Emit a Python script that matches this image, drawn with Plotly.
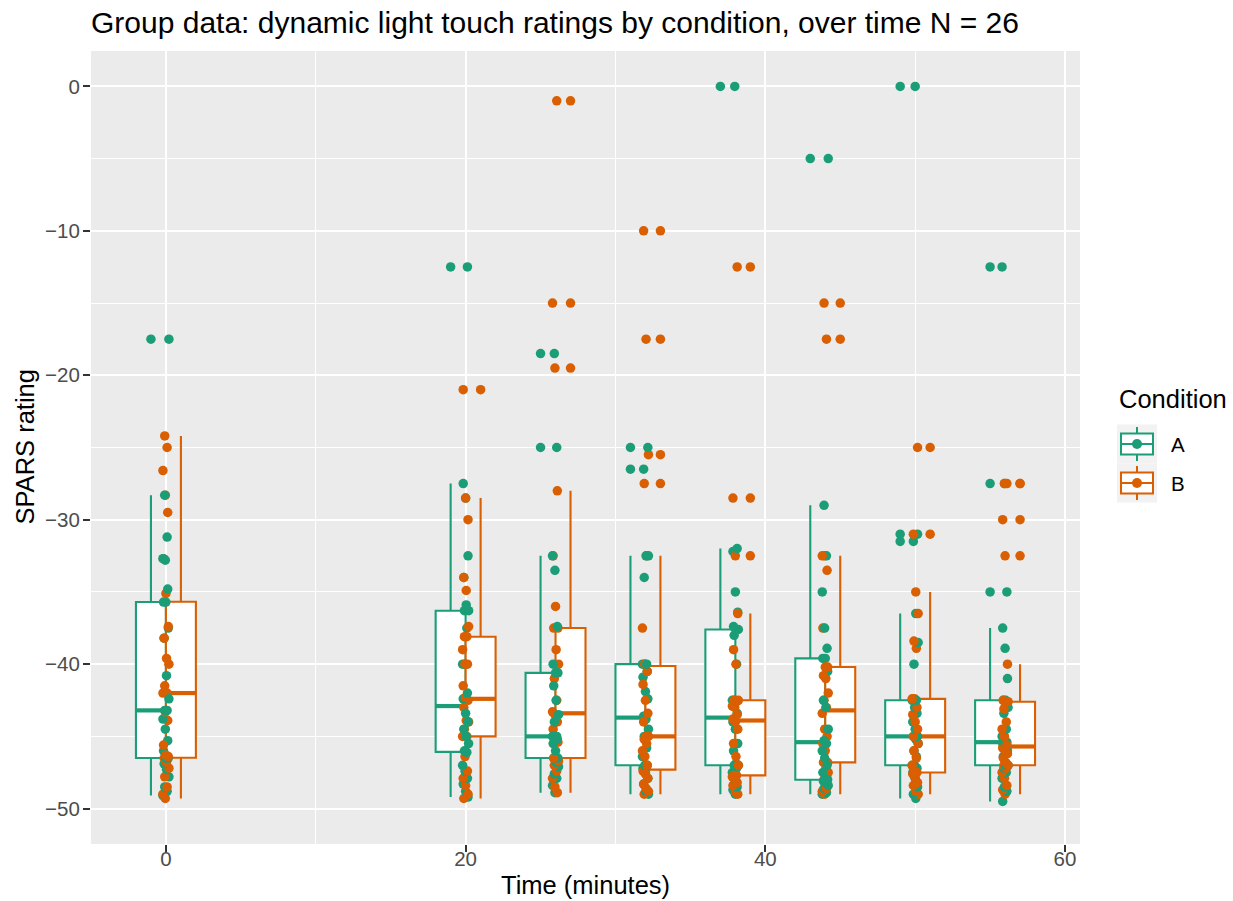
import numpy as np
import plotly.graph_objects as go

# ---- data: SPARS ratings per participant (N = 26), by condition and time point ----
times = [0, 20, 26, 32, 38, 44, 50, 56]

a_t0 = [-49.1, -48.8, -48.5, -47.8, -47.3, -46.9, -46.5, -46.5, -46.0, -45.3, -44.5, -43.8, -43.2,
        -43.2, -42.4, -40.8, -38.2, -37.5, -35.7, -35.7, -34.8, -32.8, -32.7, -31.2, -28.3, -17.5]
a_t20 = [-49.2, -48.8, -48.3, -47.9, -47.4, -47.0, -46.1, -46.0, -45.5, -45.0, -44.5, -44.0, -43.4,
         -42.4, -42.0, -40.0, -40.0, -37.5, -36.3, -36.3, -35.9, -34.0, -32.5, -28.5, -27.5, -12.5]
a_t26 = [-48.9, -48.4, -47.9, -47.6, -47.1, -46.8, -46.5, -46.5, -46.0, -45.5, -45.2, -45.0, -45.0,
         -45.0, -44.0, -43.5, -42.5, -41.5, -40.6, -40.6, -40.0, -37.4, -33.5, -32.5, -25.0, -18.5]
a_t32 = [-49.0, -48.8, -48.3, -47.9, -47.5, -47.2, -47.0, -47.0, -46.4, -45.8, -45.0, -44.5, -43.8,
         -43.6, -42.4, -41.9, -40.9, -40.5, -40.0, -40.0, -40.0, -34.0, -32.5, -32.5, -26.5, -25.0]
a_t38 = [-49.0, -48.7, -48.5, -48.0, -47.5, -47.2, -47.0, -47.0, -46.9, -46.0, -45.5, -44.5, -44.0,
         -43.4, -42.5, -42.5, -40.0, -38.0, -37.6, -37.6, -37.4, -36.4, -35.0, -32.2, -32.0, 0.0]
a_t44 = [-49.0, -48.9, -48.6, -48.4, -48.2, -48.1, -48.0, -48.0, -47.5, -47.0, -46.5, -46.0, -45.5,
         -45.3, -44.5, -43.0, -42.5, -40.5, -39.6, -39.6, -38.9, -37.5, -35.0, -32.5, -29.0, -5.0]
a_t50 = [-49.3, -49.0, -48.5, -47.9, -47.5, -47.2, -47.0, -47.0, -46.4, -46.0, -45.5, -45.2, -45.0,
         -45.0, -44.5, -44.0, -43.4, -43.0, -42.5, -42.5, -40.0, -38.5, -36.5, -31.5, -31.0, 0.0]
a_t56 = [-49.5, -48.8, -48.5, -47.9, -47.5, -47.2, -47.0, -47.0, -46.4, -46.0, -45.8, -45.5, -45.4,
         -45.4, -45.0, -44.5, -43.4, -43.0, -42.5, -42.5, -41.0, -38.9, -37.5, -35.0, -27.5, -12.5]

b_t0 = [-49.3, -49.0, -48.5, -47.8, -47.2, -46.8, -46.5, -46.4, -46.3, -45.6, -43.9, -43.3, -42.0,
        -42.0, -41.5, -40.0, -39.6, -38.2, -37.4, -35.1, -32.7, -29.5, -28.3, -26.6, -25.0, -24.2]
b_t20 = [-49.3, -49.0, -48.4, -47.9, -47.4, -46.4, -45.0, -45.0, -44.5, -44.0, -43.9, -43.0, -42.5,
         -42.3, -41.5, -40.0, -40.0, -39.0, -38.1, -38.1, -37.4, -34.9, -34.0, -30.0, -28.5, -21.0]
b_t26 = [-48.9, -48.5, -47.9, -47.4, -47.0, -46.7, -46.5, -46.5, -45.4, -45.0, -44.5, -44.0, -43.5,
         -43.3, -42.5, -41.0, -40.0, -39.0, -37.5, -37.5, -36.0, -32.5, -28.0, -19.5, -15.0, -1.0]
b_t32 = [-49.0, -48.8, -48.6, -48.3, -47.9, -47.6, -47.4, -47.0, -46.4, -46.0, -45.5, -45.2, -45.0,
         -45.0, -44.0, -43.4, -42.5, -41.4, -40.5, -40.0, -37.5, -32.5, -27.5, -25.5, -17.5, -10.0]
b_t38 = [-49.0, -48.8, -48.4, -48.2, -47.9, -47.8, -47.7, -47.7, -47.0, -46.4, -45.5, -44.5, -44.0,
         -43.8, -43.5, -43.0, -42.9, -42.6, -42.5, -42.5, -40.0, -39.0, -36.5, -32.5, -28.5, -12.5]
b_t44 = [-49.0, -48.8, -48.6, -48.0, -47.5, -47.2, -46.8, -46.8, -46.0, -45.5, -45.0, -44.5, -43.4,
         -43.0, -42.5, -42.0, -41.0, -40.8, -40.2, -40.2, -37.5, -33.5, -32.5, -32.5, -17.5, -15.0]
b_t50 = [-49.0, -48.8, -48.4, -48.2, -47.9, -47.6, -47.5, -47.5, -47.0, -46.5, -46.0, -45.5, -45.0,
         -45.0, -44.5, -44.0, -43.5, -43.0, -42.4, -42.4, -38.9, -38.4, -36.5, -35.0, -31.0, -25.0]
b_t56 = [-49.0, -48.7, -48.4, -47.9, -47.5, -47.2, -47.0, -47.0, -46.8, -46.5, -46.2, -46.0, -45.8,
         -45.6, -45.0, -44.5, -44.0, -43.1, -42.6, -42.6, -42.5, -40.0, -32.5, -30.0, -27.5, -27.5]

cond_a = [a_t0, a_t20, a_t26, a_t32, a_t38, a_t44, a_t50, a_t56]
cond_b = [b_t0, b_t20, b_t26, b_t32, b_t38, b_t44, b_t50, b_t56]

conditions = ["A", "B"]
x_ticks = [0, 20, 40, 60]
x_minor = [10, 30, 50]
y_ticks = [-50, -40, -30, -20, -10, 0]
y_tick_labels = ["\u221250", "\u221240", "\u221230", "\u221220", "\u221210", "0"]
y_minor = [-45, -35, -25, -15, -5]

title_text = "Group data: dynamic light touch ratings by condition, over time N = 26"

# ---- styling ----
colors = {"A": "#1B9E77", "B": "#D95F02"}
dodge = {"A": -1.0, "B": 1.0}
box_width = 2.0
font_family = "Liberation Sans, Arial, sans-serif"
tick_size = 20.5
axis_title_size = 25.5
title_size = 30

W, H = 1233, 901
ML, MR, MT, MB = 91, 153, 51, 57


def px_x(px):
    return (px - ML) / (W - ML - MR)


def px_y(py):
    return (H - MB - py) / (H - MT - MB)


def box_stats(vals):
    """Tukey box statistics (type-7 quartiles, 1.5 IQR whiskers)."""
    v = np.asarray(vals, dtype=float)
    q1, med, q3 = np.percentile(v, [25, 50, 75])
    iqr = q3 - q1
    lo, hi = q1 - 1.5 * iqr, q3 + 1.5 * iqr
    inside = v[(v >= lo - 1e-9) & (v <= hi + 1e-9)]
    out = v[(v < lo - 1e-9) | (v > hi + 1e-9)]
    return q1, med, q3, inside.min(), inside.max(), out


fig = go.Figure()

series = {"A": cond_a, "B": cond_b}
stats = {c: [box_stats(vals) for vals in series[c]] for c in conditions}

# boxes (drawn beneath all scatter layers)
for c in conditions:
    st = stats[c]
    fig.add_trace(go.Box(
        x=[t + dodge[c] for t in times],
        q1=[s[0] for s in st], median=[s[1] for s in st], q3=[s[2] for s in st],
        lowerfence=[s[3] for s in st], upperfence=[s[4] for s in st],
        width=box_width, whiskerwidth=0, orientation="v",
        fillcolor="white", line=dict(color=colors[c], width=2.1),
        boxpoints=False, showlegend=False, hoverinfo="skip", name=c,
    ))

# thick median bars
for c in conditions:
    mx, my = [], []
    for t, s in zip(times, stats[c]):
        mx += [t + dodge[c] - box_width / 2, t + dodge[c] + box_width / 2, None]
        my += [s[1], s[1], None]
    fig.add_trace(go.Scatter(x=mx, y=my, mode="lines", line=dict(color=colors[c], width=4.2),
                             showlegend=False, hoverinfo="skip"))

# box-plot outliers at the box centres
for c in conditions:
    ox, oy = [], []
    for t, s in zip(times, stats[c]):
        ox += [t + dodge[c]] * len(s[5])
        oy += list(s[5])
    fig.add_trace(go.Scatter(x=ox, y=oy, mode="markers",
                             marker=dict(color=colors[c], size=9.5, line=dict(width=0)),
                             showlegend=False, hoverinfo="skip"))

# raw observations, lightly jittered around each time point
px_, py_, pc_ = [], [], []
for t, va, vb in zip(times, cond_a, cond_b):
    for k, (ya, yb) in enumerate(zip(va, vb)):
        for j, (c, y) in enumerate((("A", ya), ("B", yb))):
            off = (((k * 7 + j * 4 + t) % 11) - 5) * 0.04
            px_.append(t + off)
            py_.append(y)
            pc_.append(colors[c])
fig.add_trace(go.Scatter(x=px_, y=py_, mode="markers",
                         marker=dict(color=pc_, size=9.5, line=dict(width=0)),
                         showlegend=False, hoverinfo="skip"))

# ---- manual legend with box-plot key glyphs ----
shapes = []
annotations = []
annotations.append(dict(text="Condition", x=px_x(1117), y=px_y(399), xref="paper", yref="paper",
                        xanchor="left", yanchor="middle", showarrow=False,
                        font=dict(size=axis_title_size, color="black", family=font_family)))
key_centers = {"A": 444, "B": 483}
for c in conditions:
    cy = key_centers[c]
    col = colors[c]
    shapes.append(dict(type="rect", xref="paper", yref="paper", x0=px_x(1117), x1=px_x(1157),
                       y0=px_y(cy - 19.5), y1=px_y(cy + 19.5), fillcolor="#F2F2F2",
                       line=dict(width=0), layer="above"))
    shapes.append(dict(type="line", xref="paper", yref="paper", x0=px_x(1137), x1=px_x(1137),
                       y0=px_y(cy - 17), y1=px_y(cy + 17), line=dict(color=col, width=2),
                       layer="above"))
    shapes.append(dict(type="rect", xref="paper", yref="paper", x0=px_x(1121), x1=px_x(1153),
                       y0=px_y(cy - 10.5), y1=px_y(cy + 10.5), fillcolor="white",
                       line=dict(color=col, width=2), layer="above"))
    shapes.append(dict(type="line", xref="paper", yref="paper", x0=px_x(1121), x1=px_x(1153),
                       y0=px_y(cy), y1=px_y(cy), line=dict(color=col, width=2), layer="above"))
    shapes.append(dict(type="circle", xref="paper", yref="paper", x0=px_x(1132), x1=px_x(1142),
                       y0=px_y(cy - 5), y1=px_y(cy + 5), fillcolor=col, line=dict(width=0),
                       layer="above"))
    annotations.append(dict(text=c, x=px_x(1169), y=px_y(cy), xref="paper", yref="paper",
                            xanchor="left", yanchor="middle", showarrow=False,
                            font=dict(size=tick_size, color="black", family=font_family)))

# axis titles
annotations.append(dict(text="Time (minutes)", x=0.5, y=px_y(885), xref="paper", yref="paper",
                        xanchor="center", yanchor="middle", showarrow=False,
                        font=dict(size=axis_title_size, color="black", family=font_family)))
annotations.append(dict(text="SPARS rating", x=px_x(24), y=0.5, xref="paper", yref="paper",
                        xanchor="center", yanchor="middle", showarrow=False, textangle=-90,
                        font=dict(size=axis_title_size, color="black", family=font_family)))

axis_common = dict(
    showgrid=True, gridcolor="white", gridwidth=2.1, zeroline=False, showline=False,
    ticks="outside", ticklen=7, tickwidth=2, tickcolor="#333333",
    tickfont=dict(size=tick_size, color="#4D4D4D", family=font_family),
)

fig.update_layout(
    width=W, height=H,
    margin=dict(l=ML, r=MR, t=MT, b=MB),
    paper_bgcolor="white", plot_bgcolor="#EBEBEB",
    font=dict(family=font_family),
    title=dict(text=title_text, x=px_x(91), xref="paper", xanchor="left",
               y=1 - 22 / H, yref="container", yanchor="middle",
               font=dict(size=title_size, color="black", family=font_family)),
    xaxis=dict(range=[-5, 61], tickvals=x_ticks, ticktext=[str(v) for v in x_ticks],
               ticklabelstandoff=-11,
               minor=dict(tickvals=x_minor, showgrid=True, gridcolor="white", gridwidth=1.05),
               **axis_common),
    yaxis=dict(range=[-52.45, 2.45], tickvals=y_ticks, ticktext=y_tick_labels,
               ticklabelstandoff=-1,
               minor=dict(tickvals=y_minor, showgrid=True, gridcolor="white", gridwidth=1.05),
               **axis_common),
    shapes=shapes, annotations=annotations, showlegend=False,
)

fig.write_html("out.html")
